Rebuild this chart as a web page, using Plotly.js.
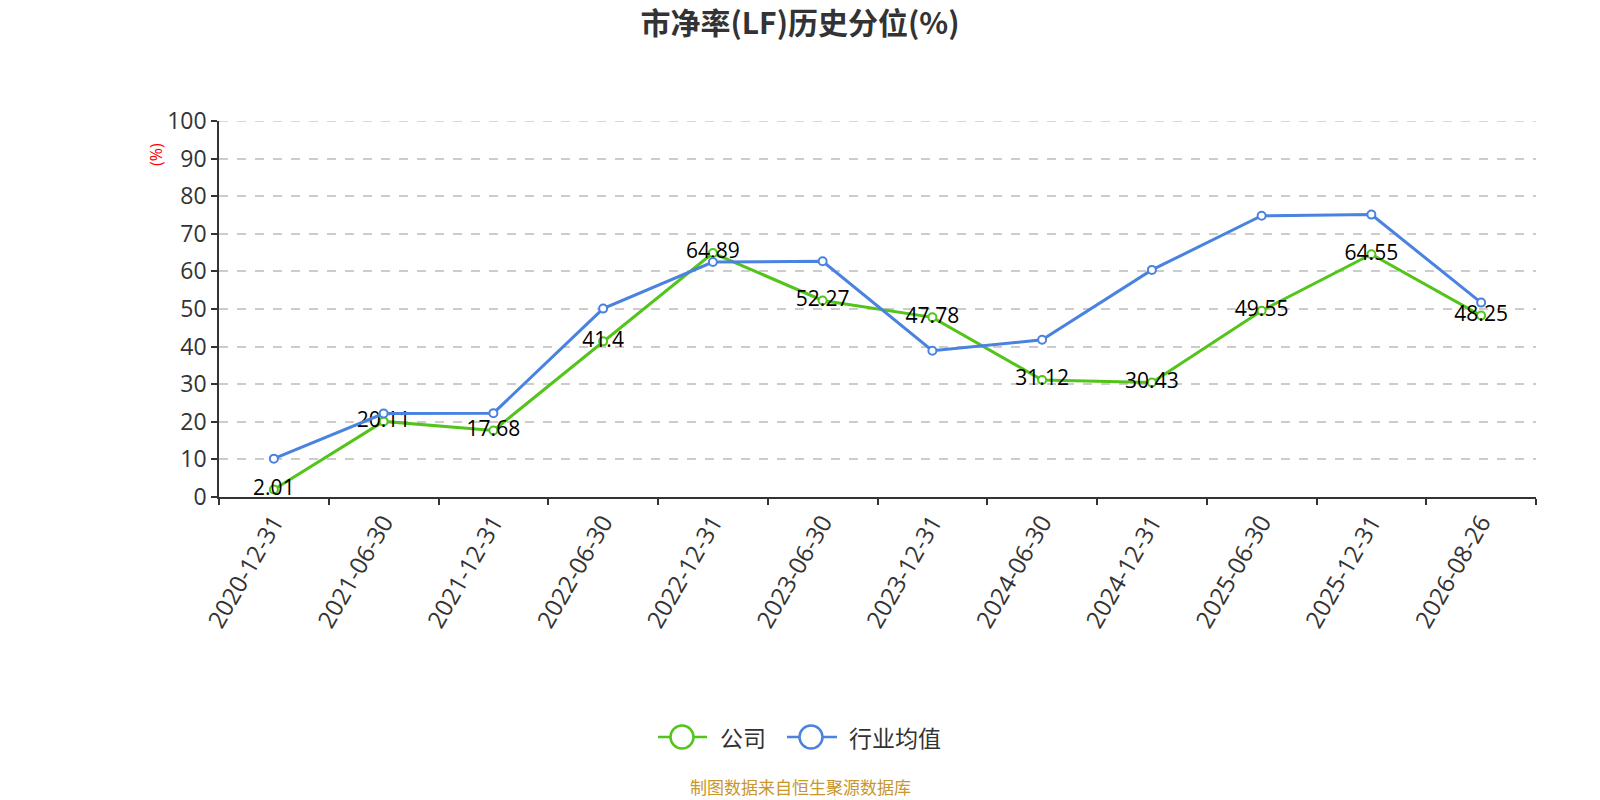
<!DOCTYPE html>
<html>
<head>
<meta charset="utf-8">
<script src="https://cdn.plot.ly/plotly-3.0.1.min.js"></script>
<style>
  body { margin: 0; background: #fff; }
  #chart { width: 1600px; height: 800px; }
</style>
</head>
<body>
<div id="chart"></div>
<script>
// dates on the x axis
var dates = ['2020-12-31','2021-06-30','2021-12-31','2022-06-30','2022-12-31','2023-06-30',
             '2023-12-31','2024-06-30','2024-12-31','2025-06-30','2025-12-31','2026-08-26'];
// company percentile
var company = [2.01, 20.11, 17.68, 41.4, 64.89, 52.27, 47.78, 31.12, 30.43, 49.55, 64.55, 48.25];
// industry average (no labels drawn)
var industry = [10.2, 22.2, 22.3, 50.1, 62.5, 62.7, 38.9, 41.8, 60.4, 74.8, 75.1, 51.7];
var seriesNames = ['公司', '行业均值'];
var yTicks = [0, 10, 20, 30, 40, 50, 60, 70, 80, 90, 100];

var green = '#52c41a', blue = '#4a82e0';
var fnt = 'Open Sans, "Noto Sans CJK SC", sans-serif';
var cjk = '"Noto Sans CJK SC", sans-serif';

// plot box in page pixels, used to place the hand-made legend
var L = 219, R = 1536, T = 121, B = 497;
function px(x) { return (x - L) / (R - L); }
function py(y) { return (B - y) / (B - T); }

var traces = [
  { name: seriesNames[0], x: dates, y: company, type: 'scatter', mode: 'lines+markers+text',
    text: company.map(String), textposition: 'middle center',
    textfont: { size: 21, color: '#000', family: fnt },
    line: { color: green, width: 3 },
    marker: { symbol: 'circle', size: 8, color: '#fff', line: { color: green, width: 2 } },
    cliponaxis: false },
  { name: seriesNames[1], x: dates, y: industry, type: 'scatter', mode: 'lines+markers',
    line: { color: blue, width: 3 },
    marker: { symbol: 'circle', size: 8, color: '#fff', line: { color: blue, width: 2 } },
    cliponaxis: false }
];

// top gridline (plotly skips the one sitting on the range edge)
var shapes = [{ type: 'line', xref: 'paper', yref: 'y', x0: 0, x1: 1, y0: yTicks[yTicks.length - 1], y1: yTicks[yTicks.length - 1],
                line: { color: '#ccc', width: 1.5, dash: 'dash' }, layer: 'below' }];
var annos = [];

// legend: line + big open circle + label
[[658, 707, 682, green, 718], [787, 837, 811, blue, 847]].forEach(function (it, i) {
  var ly = 737, r = 11.5;
  shapes.push({ type: 'line', xref: 'paper', yref: 'paper', x0: px(it[0]), x1: px(it[1]), y0: py(ly), y1: py(ly),
                line: { color: it[3], width: 2.5 } });
  shapes.push({ type: 'circle', xref: 'paper', yref: 'paper', x0: px(it[2] - r), x1: px(it[2] + r),
                y0: py(ly + r), y1: py(ly - r), fillcolor: '#fff', line: { color: it[3], width: 2.5 } });
  annos.push({ text: seriesNames[i], xref: 'paper', x: px(it[4]), xanchor: 'left', yref: 'paper', y: py(ly),
               yanchor: 'middle', showarrow: false, font: { size: 23, color: '#333', family: cjk } });
});

annos.push({ text: '(%)', xref: 'paper', x: px(156), xanchor: 'center', yref: 'paper', y: py(155), yanchor: 'middle',
             textangle: -90, showarrow: false, font: { size: 16, color: '#f00' } });
annos.push({ text: '制图数据来自恒生聚源数据库', xref: 'paper', x: px(800), xanchor: 'center',
             yref: 'paper', y: py(786), yanchor: 'middle', showarrow: false,
             font: { size: 17, color: '#c8962a', family: cjk } });

var layout = {
  width: 1600, height: 800,
  margin: { l: L, r: 1600 - R, t: T, b: 800 - B },
  paper_bgcolor: '#fff', plot_bgcolor: '#fff',
  font: { family: fnt, color: '#333' },
  title: { text: '<b>市净率(LF)历史分位(%)</b>', xref: 'container', x: 0.5, xanchor: 'center',
           yref: 'container', y: 1 - 23 / 800, yanchor: 'middle',
           font: { size: 30, color: '#333', family: cjk } },
  xaxis: { type: 'category', range: [-0.5, 11.5], tickson: 'boundaries',
           ticks: 'outside', ticklen: 6, tickcolor: '#333', tickwidth: 1.5,
           showline: true, linecolor: '#333', linewidth: 1.5,
           showgrid: false, zeroline: false,
           tickangle: -60, tickfont: { size: 24, color: '#333' } },
  yaxis: { range: [0, 100], tickvals: yTicks,
           ticks: 'outside', ticklen: 6, tickcolor: '#333', tickwidth: 1.5,
           showline: true, linecolor: '#333', linewidth: 1.5,
           showgrid: true, gridcolor: '#ccc', griddash: 'dash', gridwidth: 1.5,
           zeroline: false, tickfont: { size: 23, color: '#333' } },
  showlegend: false,
  shapes: shapes,
  annotations: annos
};

Plotly.newPlot('chart', traces, layout, { displayModeBar: false });
</script>
</body>
</html>
